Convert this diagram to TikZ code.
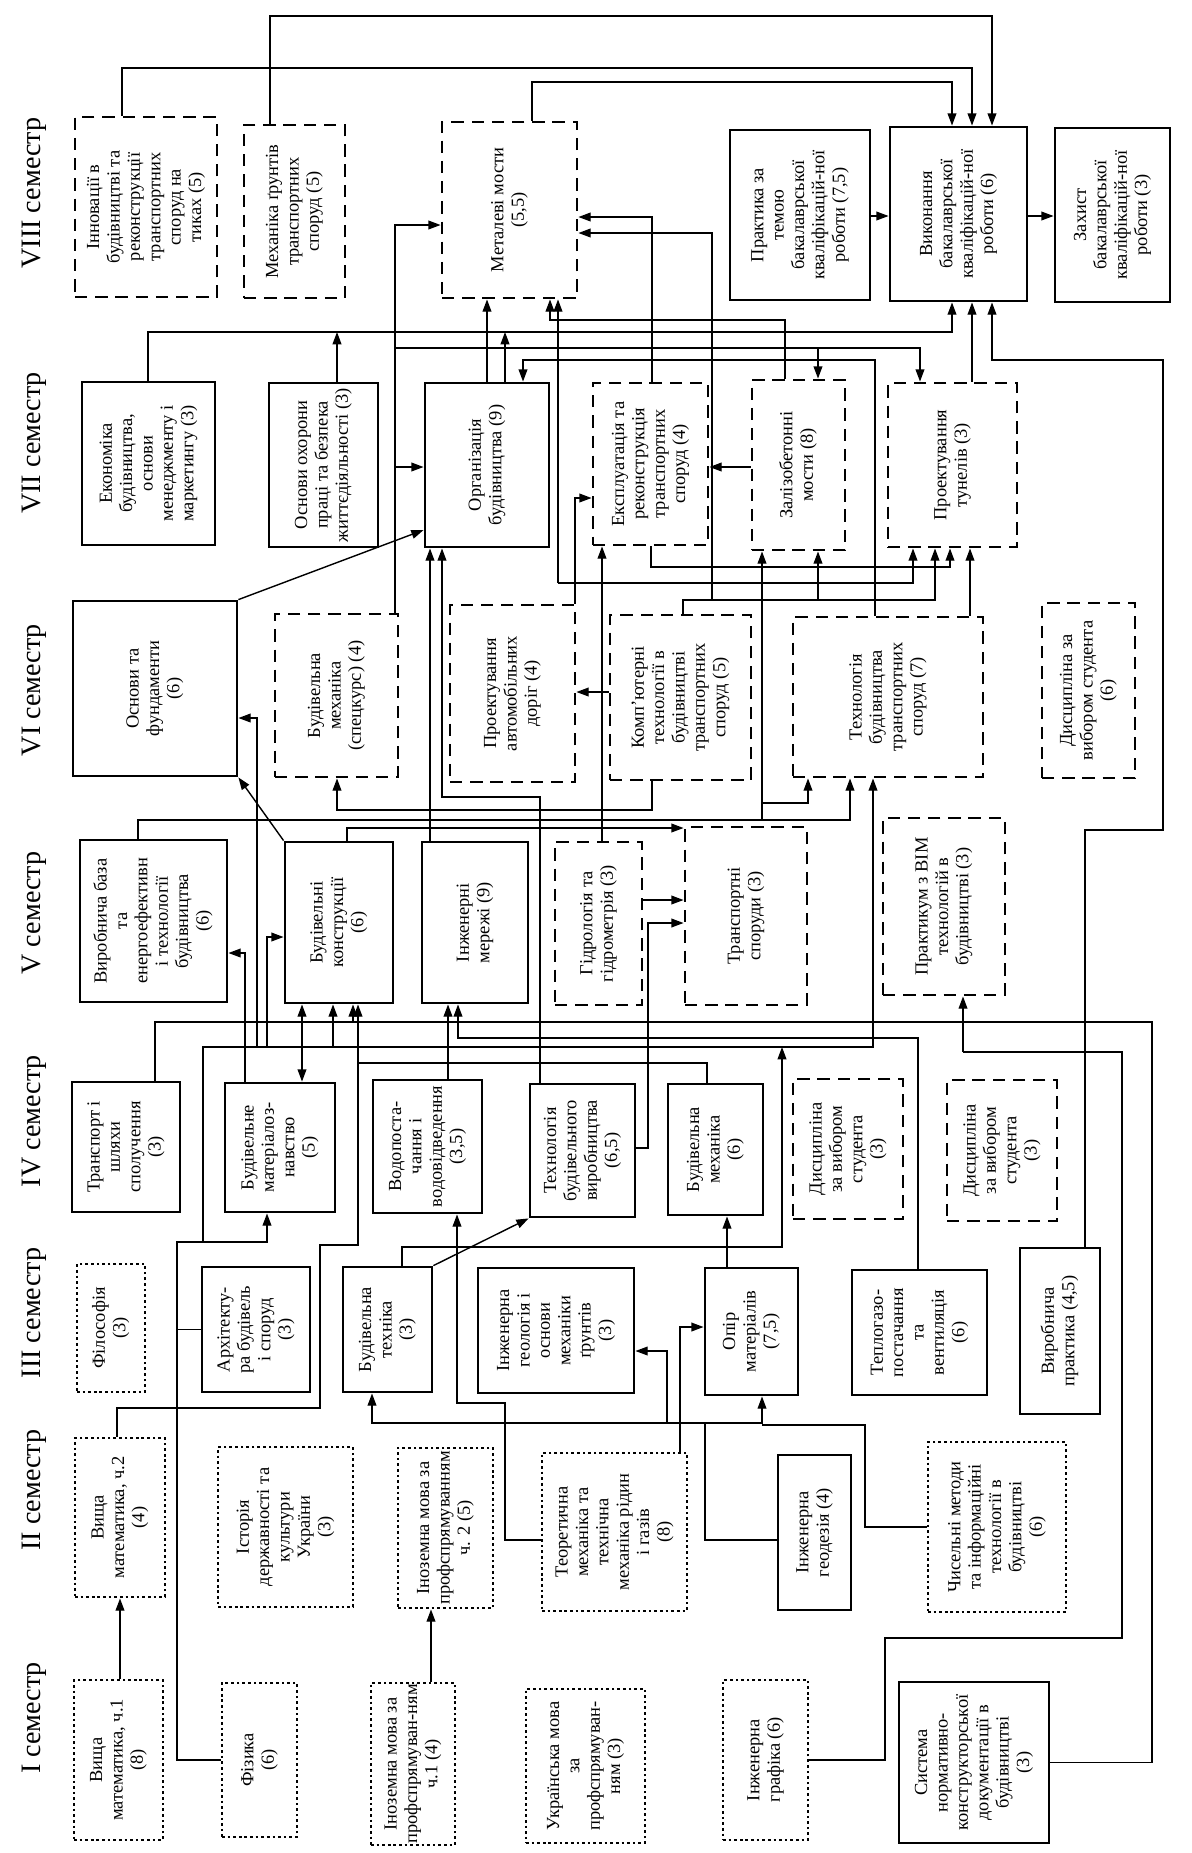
\documentclass[tikz,border=0pt]{standalone}
\usepackage{fontspec}
\setmainfont{Liberation Serif}
\usepackage{graphicx}
\usetikzlibrary{arrows.meta,fit,calc}
\tikzset{
    solidbox/.style={draw=black,line width=1.6pt,inner sep=0pt},
    dashbox/.style={draw=black,line width=1.6pt,dash pattern=on 7pt off 4.5pt,inner sep=0pt},
    dotbox/.style={draw=black,line width=1.6pt,dash pattern=on 1.5pt off 1.7pt,inner sep=0pt},
    link/.style={line width=0.8pt,draw=black},
    arr/.style={link,-{Triangle[length=7pt,width=5pt]}},
    semlabel/.style={font=\fontsize{16}{18}\selectfont,rotate=90},
    every node/.style={font=\fontsize{10.5}{11.6}\selectfont}
}
\newcommand{\vtxt}[1]{\makebox[0pt]{\raisebox{-0.5\height}[0pt][0pt]{\rotatebox{90}{\begin{tabular}{@{}c@{}}#1\end{tabular}}}}}

\begin{document}
\begin{tikzpicture}[x=0.02cm,y=-0.02cm]
  \useasboundingbox (0,0) rectangle (1191,1853);

  % семестри
  \foreach \s/\y/\lab in {8/193/VIII,7/443/VII,6/690/VI,5/913/V,4/1121/IV,3/1313/III,2/1490/II,1/1718/I}{
    \node[semlabel] (S\s) at (34,\y) {\lab\ семестр};
  }

  % VIII семестр
  \node[dashbox,fit={(75,117)(217,297)}] (C81) {\vtxt{Інновації в\\будівництві та\\реконструкції\\транспортних\\споруд на\\тиках (5)}};
  \node[dashbox,fit={(244,125)(345,298)}] (C82) {\vtxt{Механіка ґрунтів\\транспортних\\споруд (5)}};
  \node[dashbox,fit={(442,122)(577,298)}] (C83) {\vtxt{Металеві мости\\(5,5)}};
  \node[solidbox,fit={(730,130)(870,300)}] (C84) {\vtxt{Практика за\\темою\\бакалаврської\\кваліфікацій-ної\\роботи (7,5)}};
  \node[solidbox,fit={(890,127)(1027,301)}] (C85) {\vtxt{Виконання\\бакалаврської\\кваліфікацій-ної\\роботи (6)}};
  \node[solidbox,fit={(1055,128)(1170,302)}] (C86) {\vtxt{Захист\\бакалаврської\\кваліфікацій-ної\\роботи (3)}};

  % VII семестр
  \node[solidbox,fit={(82,382)(215,545)}] (C71) {\vtxt{Економіка\\будівництва,\\основи\\менеджменту і\\маркетингу (3)}};
  \node[solidbox,fit={(269,383)(378,547)}] (C72) {\vtxt{Основи охорони\\праці та безпека\\життєдіяльності (3)}};
  \node[solidbox,fit={(425,383)(549,547)}] (C73) {\vtxt{Організація\\будівництва (9)}};
  \node[dashbox,fit={(593,383)(708,545)}] (C74) {\vtxt{Експлуатація та\\реконструкція\\транспортних\\споруд (4)}};
  \node[dashbox,fit={(752,380)(845,550)}] (C75) {\vtxt{Залізобетонні\\мости (8)}};
  \node[dashbox,fit={(888,383)(1017,547)}] (C76) {\vtxt{Проектування\\тунелів (3)}};

  % VI семестр
  \node[solidbox,fit={(73,601)(237,776)}] (C61) {\vtxt{Основи та\\фундаменти\\(6)}};
  \node[dashbox,fit={(275,614)(398,777)}] (C62) {\vtxt{Будівельна\\механіка\\(спецкурс) (4)}};
  \node[dashbox,fit={(450,605)(575,782)}] (C63) {\vtxt{Проектування\\автомобільних\\доріг (4)}};
  \node[dashbox,fit={(610,615)(751,780)}] (C64) {\vtxt{Комп'ютерні\\технології в\\будівництві\\транспортних\\споруд (5)}};
  \node[dashbox,fit={(793,617)(983,777)}] (C65) {\vtxt{Технологія\\будівництва\\транспортних\\споруд (7)}};
  \node[dashbox,fit={(1042,603)(1135,778)}] (C66) {\vtxt{Дисципліна за\\вибором студента\\(6)}};

  % V семестр
  \node[solidbox,fit={(80,840)(227,1002)}] (C51) {\vtxt{Виробнича база\\та\\енергоефективн\\і технології\\будівництва\\(6)}};
  \node[solidbox,fit={(285,842)(393,1003)}] (C52) {\vtxt{Будівельні\\конструкції\\(6)}};
  \node[solidbox,fit={(422,842)(528,1003)}] (C53) {\vtxt{Інженерні\\мережі (9)}};
  \node[dashbox,fit={(555,842)(642,1005)}] (C54) {\vtxt{Гідрологія та\\гідрометрія (3)}};
  \node[dashbox,fit={(685,827)(807,1005)}] (C55) {\vtxt{Транспортні\\споруди (3)}};
  \node[dashbox,fit={(883,818)(1005,995)}] (C56) {\vtxt{Практикум з BIM\\технологій в\\будівництві (3)}};

  % IV семестр
  \node[solidbox,fit={(72,1082)(180,1212)}] (C41) {\vtxt{Транспорт і\\шляхи\\сполучення\\(3)}};
  \node[solidbox,fit={(225,1083)(335,1212)}] (C42) {\vtxt{Будівельне\\матеріалоз-\\навство\\(5)}};
  \node[solidbox,fit={(373,1080)(482,1213)}] (C43) {\vtxt{Водопоста-\\чання і\\водовідведення\\(3,5)}};
  \node[solidbox,fit={(530,1084)(635,1217)}] (C44) {\vtxt{Технологія\\будівельного\\виробництва\\(6,5)}};
  \node[solidbox,fit={(668,1084)(763,1215)}] (C45) {\vtxt{Будівельна\\механіка\\(6)}};
  \node[dashbox,fit={(793,1079)(903,1219)}] (C46) {\vtxt{Дисципліна\\за вибором\\студента\\(3)}};
  \node[dashbox,fit={(947,1080)(1057,1221)}] (C47) {\vtxt{Дисципліна\\за вибором\\студента\\(3)}};

  % III семестр
  \node[dotbox,fit={(77,1264)(145,1392)}] (C31) {\vtxt{Філософія\\(3)}};
  \node[solidbox,fit={(202,1267)(310,1392)}] (C32) {\vtxt{Архітекту-\\ра будівель\\і споруд\\(3)}};
  \node[solidbox,fit={(343,1267)(432,1392)}] (C33) {\vtxt{Будівельна\\техніка\\(3)}};
  \node[solidbox,fit={(478,1268)(634,1393)}] (C34) {\vtxt{Інженерна\\геологія і\\основи\\механіки\\ґрунтів\\(3)}};
  \node[solidbox,fit={(705,1268)(798,1395)}] (C35) {\vtxt{Опір\\матеріалів\\(7,5)}};
  \node[solidbox,fit={(852,1270)(987,1395)}] (C36) {\vtxt{Теплогазо-\\постачання\\та\\вентиляція\\(6)}};
  \node[solidbox,fit={(1020,1248)(1100,1414)}] (C37) {\vtxt{Виробнича\\практика (4,5)}};

  % II семестр
  \node[dotbox,fit={(75,1438)(165,1597)}] (C21) {\vtxt{Вища\\математика, ч.2\\(4)}};
  \node[dotbox,fit={(218,1447)(353,1607)}] (C22) {\vtxt{Історія\\державності та\\культури\\України\\(3)}};
  \node[dotbox,fit={(398,1448)(493,1608)}] (C23) {\vtxt{Іноземна мова за\\профспрямуванням\\ч. 2 (5)}};
  \node[dotbox,fit={(542,1453)(687,1611)}] (C24) {\vtxt{Теоретична\\механіка та\\технічна\\механіка рідин\\і газів\\(8)}};
  \node[solidbox,fit={(778,1455)(851,1610)}] (C25) {\vtxt{Інженерна\\геодезія (4)}};
  \node[dotbox,fit={(928,1442)(1066,1612)}] (C26) {\vtxt{Чисельні методи\\та інформаційні\\технології в\\будівництві\\(6)}};

  % I семестр
  \node[dotbox,fit={(74,1680)(163,1840)}] (C11) {\vtxt{Вища\\математика, ч.1\\(8)}};
  \node[dotbox,fit={(222,1683)(297,1837)}] (C12) {\vtxt{Фізика\\(6)}};
  \node[dotbox,fit={(371,1683)(455,1845)}] (C13) {\vtxt{Іноземна мова за\\профспрямуван-ням\\ч.1 (4)}};
  \node[dotbox,fit={(526,1689)(645,1843)}] (C14) {\vtxt{Українська мова\\за\\профспрямуван-\\ням (3)}};
  \node[dotbox,fit={(723,1680)(808,1840)}] (C15) {\vtxt{Інженерна\\графіка (6)}};
  \node[solidbox,fit={(899,1682)(1049,1843)}] (C16) {\vtxt{Система\\нормативно-\\конструкторської\\документації в\\будівництві\\(3)}};

  % зв'язки VIII
  \draw[arr] (122,0 |- C81.north) -- (122,68) -- (972,68) -- (972,0 |- C85.north);
  \draw[arr] (270,0 |- C82.north) -- (270,16) -- (992,16) -- (992,0 |- C85.north);
  \draw[arr] (532,0 |- C83.north) -- (532,82) -- (952,82) -- (952,0 |- C85.north);
  \draw[arr] (C84.east |- 0,216) -- (C85.west |- 0,216);
  \draw[arr] (C85.east |- 0,216) -- (C86.west |- 0,216);

  % зв'язки VII -> VIII
  \draw[arr] (148,0 |- C71.north) -- (148,332) -- (952,332) -- (952,0 |- C85.south);
  \draw[arr] (337,0 |- C72.north) -- (337,332);
  \draw[arr] (505,0 |- C73.north) -- (505,332);
  \draw[arr] (487,0 |- C73.north) -- (487,0 |- C83.south);
  \draw[arr] (395,0 |- C62.north) -- (395,225) -- (C83.west |- 0,225);
  \draw[arr] (395,467) -- (C73.west |- 0,467);
  \draw[arr] (395,348) -- (920,348) -- (920,0 |- C76.north);
  \draw[arr] (818,348) -- (818,0 |- C75.north);
  \draw[arr] (875,0 |- C65.north) -- (875,360) -- (523,360) -- (523,0 |- C73.north);
  \draw[arr] (652,0 |- C74.north) -- (652,217) -- (C83.east |- 0,217);
  \draw[arr] (683,0 |- C64.north) -- (683,600) -- (935,600) -- (935,0 |- C76.south);
  \draw[arr] (712,600) -- (712,233) -- (C83.east |- 0,233);
  \draw[arr] (818,600) -- (818,0 |- C75.south);
  \draw[arr] (785,0 |- C75.north) -- (785,320) -- (550,320) -- (550,0 |- C83.south);
  \draw[arr] (558,583) -- (558,0 |- C83.south);
  \draw[arr] (558,583) -- (913,583) -- (913,0 |- C76.south);
  \draw[arr] (651,0 |- C74.south) -- (651,567) -- (950,567) -- (950,0 |- C76.south);
  \draw[arr] (970,0 |- C65.north) -- (970,0 |- C76.south);
  \draw[arr] (972,0 |- C76.north) -- (972,0 |- C85.south);
  \draw[arr] (1085,0 |- C37.north) -- (1085,830) -- (1163,830) -- (1163,360) -- (992,360) -- (992,0 |- C85.south);

  % зв'язки VI -> VII
  \draw[arr] (C52.north west) -- (C61.south east);
  \draw[arr] (C61.north east) -- (C73.west |- 0,530);
  \draw[arr] (575,0 |- C63.north) -- (575,498) -- (C74.west |- 0,498);
  \draw[arr] (602,0 |- C54.north) -- (602,0 |- C74.south);
  \draw[arr] (C75.west |- 0,467) -- (C74.east |- 0,467);
  \draw[arr] (C64.west |- 0,692) -- (C63.east |- 0,692);
  \draw[arr] (430,0 |- C53.north) -- (430,0 |- C73.south);
  \draw[arr] (540,0 |- C44.north) -- (540,797) -- (442,797) -- (442,0 |- C73.south);

  % зв'язки V -> VI
  \draw[arr] (257,1047) -- (257,718) -- (C61.east |- 0,718);
  \draw[arr] (652,0 |- C64.south) -- (652,810) -- (337,810) -- (337,0 |- C62.south);
  \draw[arr] (138,0 |- C51.north) -- (138,820) -- (850,820) -- (850,0 |- C65.south);
  \draw[arr] (762,820) -- (762,0 |- C75.south);
  \draw[arr] (762,803) -- (808,803) -- (808,0 |- C65.south);
  \draw[arr] (347,0 |- C52.north) -- (347,828) -- (C55.west |- 0,828);
  \draw[arr] (C54.east |- 0,900) -- (C55.west |- 0,900);
  \draw[arr] (C44.east |- 0,1148) -- (648,1148) -- (648,923) -- (C55.west |- 0,923);

  % зв'язки IV -> V
  \draw[arr] (245,0 |- C42.north) -- (245,953) -- (C51.east |- 0,953);
  \draw[link,{Triangle[length=7pt,width=5pt]}-{Triangle[length=7pt,width=5pt]}] (302,0 |- C42.north) -- (302,0 |- C52.south);
  \draw[arr] (C16.east) -- (1152,0 |- C16.east) -- (1152,1022) -- (353,1022) -- (353,0 |- C52.south);
  \draw[link] (155,0 |- C41.north) -- (155,1022) -- (353,1022);
  \draw[arr] (203,1242) -- (203,1047) -- (333,1047) -- (333,0 |- C52.south);
  \draw[arr] (333,1047) -- (873,1047) -- (873,0 |- C65.south);
  \draw[arr] (267,1047) -- (267,937) -- (C52.west |- 0,937);
  \draw[arr] (402,0 |- C33.north) -- (402,1247) -- (782,1247) -- (782,1047);
  \draw[arr] (918,0 |- C36.north) -- (918,1038) -- (458,1038) -- (458,0 |- C53.south);
  \draw[arr] (448,0 |- C43.north) -- (448,0 |- C53.south);
  \draw[arr] (707,0 |- C45.north) -- (707,1063) -- (358,1063) -- (358,0 |- C52.south);

  % зв'язки III -> IV
  \draw[arr] (C33.north east) -- (C44.south west);
  \draw[arr] (727,0 |- C35.north) -- (727,0 |- C45.south);
  \draw[link] (117,0 |- C21.north) -- (117,1408) -- (320,1408) -- (320,1245) -- (358,1245) -- (358,1063);
  \draw[arr] (C12.west) -- (177,0 |- C12.west) -- (177,1242) -- (267,1242) -- (267,0 |- C42.south);
  \draw[link] (C32.west) -- (177,0 |- C32.west);
  \draw[link] (177,1242) -- (203,1242);

  % зв'язки I, II -> III
  \draw[arr] (120,0 |- C11.north) -- (120,0 |- C21.south);
  \draw[arr] (431,0 |- C13.north) -- (431,0 |- C23.south);
  \draw[arr] (C24.west |- 0,1540) -- (505,1540) -- (505,1403) -- (457,1403) -- (457,0 |- C43.south);
  \draw[arr] (C25.west |- 0,1540) -- (705,1540) -- (705,1423) -- (372,1423) -- (372,0 |- C33.south);
  \draw[arr] (667,1423) -- (667,1351) -- (C34.east |- 0,1351);
  \draw[arr] (705,1423) -- (762,1423) -- (762,0 |- C35.south);
  \draw[link] (C26.west) -- (865,0 |- C26.west) -- (865,1425) -- (762,1425);
  \draw[arr] (680,0 |- C24.north) -- (680,1327) -- (C35.west |- 0,1327);
  \draw[link] (C15.east) -- (885,0 |- C15.east) -- (885,1638) -- (1122,1638) -- (1122,1052) -- (963,1052);
  \draw[arr] (963,1052) -- (963,0 |- C56.south);
\end{tikzpicture}
\end{document}
